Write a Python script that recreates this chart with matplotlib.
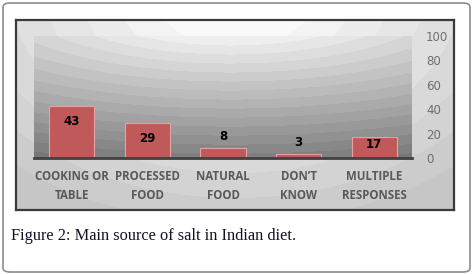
import matplotlib
matplotlib.use("Agg")
import matplotlib.pyplot as plt
import numpy as np
from matplotlib.patches import FancyBboxPatch

categories = ["COOKING OR\nTABLE", "PROCESSED\nFOOD", "NATURAL\nFOOD", "DON\u2019T\nKNOW", "MULTIPLE\nRESPONSES"]
values = [43, 29, 8, 3, 17]
yticks = [0, 20, 40, 60, 80, 100]
caption = "Figure 2: Main source of salt in Indian diet."

W, H = 477, 274
fig = plt.figure(figsize=(W / 100, H / 100), dpi=100)
fig.patch.set_facecolor("white")


def fig_rect(x0, y0, x1, y1):
    # pixel box (top-left origin) -> figure fraction
    return [x0 / W, 1 - y1 / H, (x1 - x0) / W, (y1 - y0) / H]


# outer rounded frame
frame = FancyBboxPatch((3 / W, 2 / H), 467 / W, 269 / H,
                       boxstyle="round,pad=0,rounding_size=0.015",
                       transform=fig.transFigure, facecolor="none",
                       edgecolor="#8c8c8c", linewidth=1.2, zorder=-1)
fig.patches.append(frame)

# chart background with concentric arcs
bg = fig.add_axes(fig_rect(16, 20, 454, 210))
yy, xx = np.mgrid[20:210, 16:454]
d = np.hypot((xx - 235) * 0.7, yy + 10)
shade = np.clip(0.98 - (d - 40) / 1000, 0.78, 0.98)
shade = np.round(shade * 40) / 40
bg.imshow(shade, cmap="gray", vmin=0, vmax=1, aspect="auto", interpolation="nearest")
bg.set_xticks([])
bg.set_yticks([])
for s in bg.spines.values():
    s.set_color("#3a3a3a")
    s.set_linewidth(1.6)

# plot area
ax = fig.add_axes(fig_rect(34, 36, 412, 158))
py, px = np.mgrid[36:158, 34:412]
d2 = np.hypot((px - 230) * 0.3, py)
pshade = np.clip(0.95 - (d2 - 36) * 0.0037, 0.48, 0.95)
pshade = np.round(pshade * 30) / 30
ax.imshow(pshade, cmap="gray", vmin=0, vmax=1, aspect="auto",
          extent=[-0.5, 4.5, 0, 100], interpolation="nearest", zorder=0)

x = np.arange(len(values))
ax.bar(x, values, width=0.6, color="#c0595a", edgecolor="#e3a3a3", linewidth=0.8, zorder=2)

for xi, v in zip(x, values):
    if v >= 25:
        ty = v - 13
    elif v >= 15:
        ty = v - 6
    else:
        ty = v + 10
    ax.text(xi, ty, str(v), ha="center", va="center", fontsize=8.5,
            fontweight="bold", color="black", family="DejaVu Sans", zorder=3)

ax.set_xlim(-0.5, 4.5)
ax.set_ylim(0, 100)
ax.set_xticks(x)
ax.set_xticklabels(categories, fontsize=8.3, fontweight="bold", color="#595959",
                   family="Open Sans", linespacing=1.55)
ax.set_yticks(yticks)
ax.yaxis.tick_right()
ax.tick_params(axis="y", length=0, pad=10, labelsize=8.5, labelcolor="#6e6e6e")
ax.tick_params(axis="x", length=0, pad=9)
for lab in ax.get_yticklabels():
    lab.set_family("DejaVu Sans")
for k in ["top", "left", "right"]:
    ax.spines[k].set_visible(False)
ax.spines["bottom"].set_color("#404040")
ax.spines["bottom"].set_linewidth(2)
ax.spines["bottom"].set_zorder(4)

fig.text(11 / W, 1 - 236 / H, caption, fontsize=11.8, family="Liberation Serif",
         color="#111122", ha="left", va="center")

fig.savefig("out.png", dpi=100)
